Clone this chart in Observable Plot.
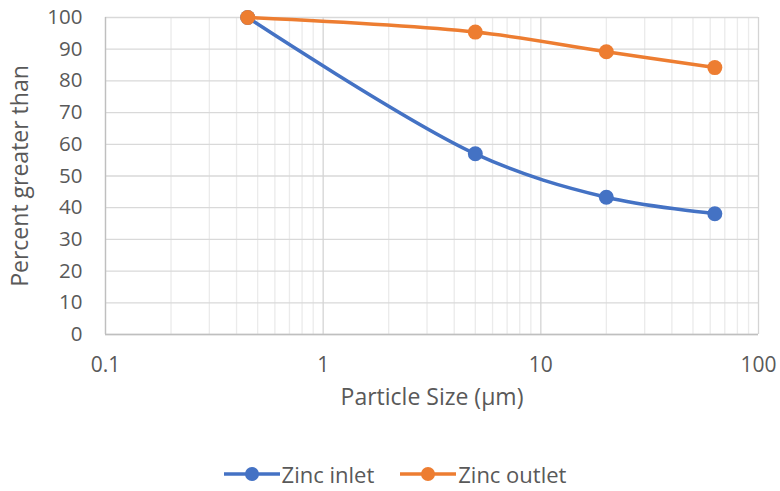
<!DOCTYPE html>
<html><head><meta charset="utf-8">
<script src="https://cdn.jsdelivr.net/npm/d3@7"></script>
<script src="https://cdn.jsdelivr.net/npm/@observablehq/plot@0.6"></script>
<style>
body{margin:0;background:#fff;font-family:"Open Sans",Lato,sans-serif;}
#legend{display:flex;justify-content:center;align-items:center;height:34px;margin-top:17px;padding-left:10px;font-size:22px;color:#595959;}
.item{display:flex;align-items:center;margin:0 13px;}
.item svg{margin-right:2px;}
</style>
</head><body>
<div id="chart"></div>
<div id="legend"></div>
<script>
const sizes = [0.45, 5, 20, 63];
const inlet = [100, 57, 43.3, 38.1];
const outlet = [100, 95.4, 89.2, 84.2];
const seriesNames = ["Zinc inlet", "Zinc outlet"];
const colors = ["#4472C4", "#ED7D31"];
const xMajor = [0.1, 1, 10, 100];
const xMinor = [0.2,0.3,0.4,0.5,0.6,0.7,0.8,0.9,2,3,4,5,6,7,8,9,20,30,40,50,60,70,80,90];
const yTicks = [0,10,20,30,40,50,60,70,80,90,100];
const xTitle = "Particle Size (µm)";
const yTitle = "Percent greater than";

const data = [];
[inlet, outlet].forEach((vals, k) => sizes.forEach((s, i) => data.push({series: seriesNames[k], x: s, y: vals[i]})));

const chart = Plot.plot({
  width: 780, height: 440,
  marginLeft: 105, marginRight: 22, marginTop: 17, marginBottom: 106,
  style: {fontFamily: "'Open Sans', Lato, sans-serif", color: "#595959", background: "#fff"},
  x: {type: "log", domain: [0.1, 100]},
  y: {domain: [0, 100]},
  color: {domain: seriesNames, range: colors},
  marks: [
    Plot.ruleX(xMinor, {stroke: "#ebebeb", strokeWidth: 1.3}),
    Plot.ruleY(yTicks, {stroke: "#d9d9d9", strokeWidth: 1.3}),
    Plot.ruleX(xMajor, {stroke: "#d4d4d4", strokeWidth: 1.3}),
    Plot.ruleX([0.1], {stroke: "#bfbfbf", strokeWidth: 1.3}),
    Plot.ruleY([0], {stroke: "#bfbfbf", strokeWidth: 1.3}),
    Plot.axisX(xMajor, {tickSize: 0, tickPadding: 23, fontSize: 21, tickFormat: d => String(d), label: null, fill: "#595959"}),
    Plot.axisY(yTicks, {tickSize: 0, tickPadding: 23, fontSize: 20.5, label: null, fill: "#595959"}),
    Plot.line(data.filter(d => d.series === seriesNames[0]), {x: "x", y: "y", stroke: "series", strokeWidth: 3.5, curve: "catmull-rom"}),
    Plot.dot(data.filter(d => d.series === seriesNames[0]), {x: "x", y: "y", fill: "series", r: 7.5}),
    Plot.line(data.filter(d => d.series === seriesNames[1]), {x: "x", y: "y", stroke: "series", strokeWidth: 3.5, curve: "catmull-rom"}),
    Plot.dot(data.filter(d => d.series === seriesNames[1]), {x: "x", y: "y", fill: "series", r: 7.5}),
    Plot.text([xTitle], {frameAnchor: "bottom", dy: 70, fontSize: 23, fill: "#595959"}),
    Plot.text([yTitle], {frameAnchor: "left", dx: -85, rotate: -90, textAnchor: "middle", fontSize: 23, fill: "#595959"})
  ]
});
document.getElementById("chart").appendChild(chart);

const legend = document.getElementById("legend");
seriesNames.forEach((name, i) => {
  const item = document.createElement("div");
  item.className = "item";
  item.innerHTML = `<svg width="56" height="16"><line x1="0" x2="56" y1="8" y2="8" stroke="${colors[i]}" stroke-width="3.5"/><circle cx="28" cy="8" r="7" fill="${colors[i]}"/></svg><span>${name}</span>`;
  legend.appendChild(item);
});
</script>
</body></html>
